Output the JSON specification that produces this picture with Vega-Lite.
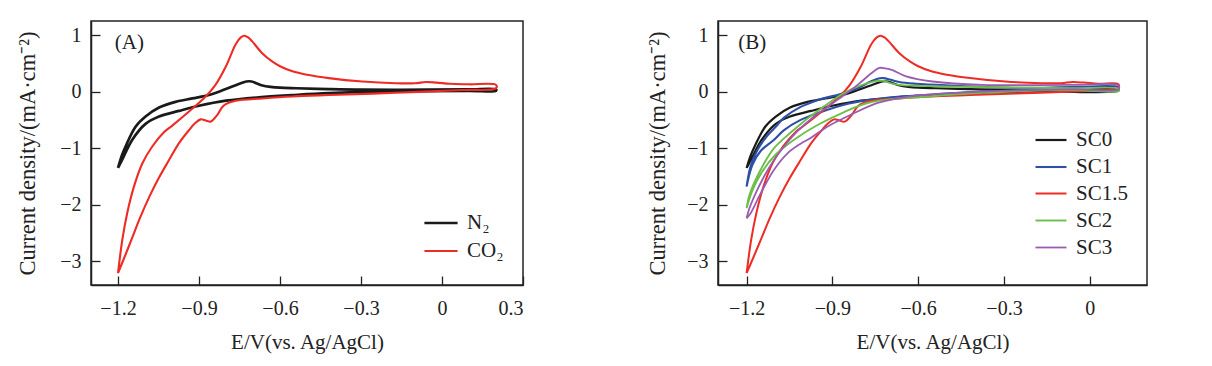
{
  "$schema": "https://vega.github.io/schema/vega-lite/v6.json",
  "background": "white",
  "padding": {"left": 15, "top": 20, "right": 5, "bottom": 5},
  "bounds": "flush",
  "spacing": 195,
  "config": {
    "font": "Liberation Serif",
    "view": {"stroke": "#222", "strokeWidth": 1.5},
    "axis": {
      "labelFont": "Liberation Serif", "labelFontSize": 20, "labelColor": "#222",
      "titleFont": "Liberation Serif", "titleFontWeight": "normal", "titleColor": "#222",
      "domainColor": "#222", "domainWidth": 1.5, "tickColor": "#222", "tickWidth": 1.3, "grid": false,
      "tickSize": -9
    },
    "axisX": {"labelPadding": 22, "titlePadding": 13, "titleFontSize": 21},
    "axisY": {"labelPadding": 19, "titlePadding": 17, "titleFontSize": 22.5},
    "legend": {
      "orient": "none", "title": null, "symbolType": "stroke", "symbolSize": 1100, "symbolStrokeWidth": 2.6,
      "labelFont": "Liberation Serif", "labelFontSize": 21, "labelColor": "#222", "rowPadding": 0, "padding": 0, "labelOffset": 8
    }
  },
  "resolve": {"scale": {"color": "independent", "strokeWidth": "independent"}, "legend": {"color": "independent"}},
  "datasets": {
    "a": [
      {"g":"N₂","i":1,"E":-1.2,"j":-1.35},{"g":"N₂","i":2,"E":-1.185,"j":-1.12},{"g":"N₂","i":3,"E":-1.172,"j":-0.97},{"g":"N₂","i":4,"E":-1.135,"j":-0.62},{"g":"N₂","i":5,"E":-1.098,"j":-0.44},{"g":"N₂","i":6,"E":-1.048,"j":-0.28},{"g":"N₂","i":7,"E":-0.987,"j":-0.18},{"g":"N₂","i":8,"E":-0.925,"j":-0.12},{"g":"N₂","i":9,"E":-0.863,"j":-0.06},{"g":"N₂","i":10,"E":-0.826,"j":0.0},{"g":"N₂","i":11,"E":-0.777,"j":0.09},{"g":"N₂","i":12,"E":-0.745,"j":0.15},{"g":"N₂","i":13,"E":-0.725,"j":0.18},{"g":"N₂","i":14,"E":-0.705,"j":0.18},{"g":"N₂","i":15,"E":-0.688,"j":0.15},{"g":"N₂","i":16,"E":-0.665,"j":0.11},{"g":"N₂","i":17,"E":-0.635,"j":0.085},{"g":"N₂","i":18,"E":-0.6,"j":0.07},{"g":"N₂","i":19,"E":-0.54,"j":0.06},{"g":"N₂","i":20,"E":-0.42,"j":0.045},{"g":"N₂","i":21,"E":-0.295,"j":0.035},{"g":"N₂","i":22,"E":-0.05,"j":0.035},{"g":"N₂","i":23,"E":0.1,"j":0.04},{"g":"N₂","i":24,"E":0.2,"j":0.04},
      {"g":"N₂","i":25,"E":0.2,"j":0.015},{"g":"N₂","i":26,"E":0.1,"j":0.015},{"g":"N₂","i":27,"E":-0.17,"j":0.005},{"g":"N₂","i":28,"E":-0.42,"j":-0.025},{"g":"N₂","i":29,"E":-0.554,"j":-0.06},{"g":"N₂","i":30,"E":-0.678,"j":-0.1},{"g":"N₂","i":31,"E":-0.8,"j":-0.16},{"g":"N₂","i":32,"E":-0.9,"j":-0.25},{"g":"N₂","i":33,"E":-0.974,"j":-0.34},{"g":"N₂","i":34,"E":-1.048,"j":-0.44},{"g":"N₂","i":35,"E":-1.098,"j":-0.57},{"g":"N₂","i":36,"E":-1.147,"j":-0.85},{"g":"N₂","i":37,"E":-1.184,"j":-1.2},{"g":"N₂","i":38,"E":-1.2,"j":-1.35},
      {"g":"CO₂","i":1,"E":-1.2,"j":-3.21},{"g":"CO₂","i":2,"E":-1.184,"j":-2.62},{"g":"CO₂","i":3,"E":-1.166,"j":-2.15},{"g":"CO₂","i":4,"E":-1.141,"j":-1.68},{"g":"CO₂","i":5,"E":-1.11,"j":-1.27},{"g":"CO₂","i":6,"E":-1.073,"j":-0.97},{"g":"CO₂","i":7,"E":-1.03,"j":-0.72},{"g":"CO₂","i":8,"E":-0.999,"j":-0.6},{"g":"CO₂","i":9,"E":-0.937,"j":-0.35},{"g":"CO₂","i":10,"E":-0.876,"j":-0.09},{"g":"CO₂","i":11,"E":-0.839,"j":0.12},{"g":"CO₂","i":12,"E":-0.801,"j":0.44},{"g":"CO₂","i":13,"E":-0.764,"j":0.84},{"g":"CO₂","i":14,"E":-0.745,"j":0.96},{"g":"CO₂","i":15,"E":-0.732,"j":0.99},{"g":"CO₂","i":16,"E":-0.718,"j":0.96},{"g":"CO₂","i":17,"E":-0.703,"j":0.89},{"g":"CO₂","i":18,"E":-0.666,"j":0.68},{"g":"CO₂","i":19,"E":-0.628,"j":0.53},{"g":"CO₂","i":20,"E":-0.6,"j":0.45},{"g":"CO₂","i":21,"E":-0.554,"j":0.36},{"g":"CO₂","i":22,"E":-0.5,"j":0.3},{"g":"CO₂","i":23,"E":-0.419,"j":0.24},{"g":"CO₂","i":24,"E":-0.295,"j":0.18},{"g":"CO₂","i":25,"E":-0.172,"j":0.15},{"g":"CO₂","i":26,"E":-0.1,"j":0.15},{"g":"CO₂","i":27,"E":-0.06,"j":0.17},{"g":"CO₂","i":28,"E":-0.02,"j":0.16},{"g":"CO₂","i":29,"E":0.03,"j":0.14},{"g":"CO₂","i":30,"E":0.1,"j":0.13},{"g":"CO₂","i":31,"E":0.2,"j":0.12},
      {"g":"CO₂","i":32,"E":0.2,"j":0.06},{"g":"CO₂","i":33,"E":0.075,"j":0.03},{"g":"CO₂","i":34,"E":-0.172,"j":-0.02},{"g":"CO₂","i":35,"E":-0.419,"j":-0.06},{"g":"CO₂","i":36,"E":-0.554,"j":-0.085},{"g":"CO₂","i":37,"E":-0.665,"j":-0.12},{"g":"CO₂","i":38,"E":-0.764,"j":-0.16},{"g":"CO₂","i":39,"E":-0.801,"j":-0.22},{"g":"CO₂","i":40,"E":-0.815,"j":-0.28},{"g":"CO₂","i":41,"E":-0.832,"j":-0.41},{"g":"CO₂","i":42,"E":-0.857,"j":-0.53},{"g":"CO₂","i":43,"E":-0.875,"j":-0.51},{"g":"CO₂","i":44,"E":-0.894,"j":-0.49},{"g":"CO₂","i":45,"E":-0.915,"j":-0.56},{"g":"CO₂","i":46,"E":-0.937,"j":-0.68},{"g":"CO₂","i":47,"E":-0.974,"j":-0.91},{"g":"CO₂","i":48,"E":-1.011,"j":-1.21},{"g":"CO₂","i":49,"E":-1.048,"j":-1.52},{"g":"CO₂","i":50,"E":-1.085,"j":-1.87},{"g":"CO₂","i":51,"E":-1.12,"j":-2.25},{"g":"CO₂","i":52,"E":-1.152,"j":-2.64},{"g":"CO₂","i":53,"E":-1.182,"j":-3.0},{"g":"CO₂","i":54,"E":-1.2,"j":-3.21}
    ],
    "b": [
      {"g":"SC0","i":1,"E":-1.2,"j":-1.35},{"g":"SC0","i":2,"E":-1.185,"j":-1.12},{"g":"SC0","i":3,"E":-1.172,"j":-0.97},{"g":"SC0","i":4,"E":-1.135,"j":-0.62},{"g":"SC0","i":5,"E":-1.098,"j":-0.44},{"g":"SC0","i":6,"E":-1.048,"j":-0.28},{"g":"SC0","i":7,"E":-0.987,"j":-0.18},{"g":"SC0","i":8,"E":-0.925,"j":-0.12},{"g":"SC0","i":9,"E":-0.863,"j":-0.06},{"g":"SC0","i":10,"E":-0.826,"j":0.0},{"g":"SC0","i":11,"E":-0.777,"j":0.09},{"g":"SC0","i":12,"E":-0.745,"j":0.15},{"g":"SC0","i":13,"E":-0.725,"j":0.18},{"g":"SC0","i":14,"E":-0.705,"j":0.18},{"g":"SC0","i":15,"E":-0.688,"j":0.15},{"g":"SC0","i":16,"E":-0.665,"j":0.11},{"g":"SC0","i":17,"E":-0.635,"j":0.085},{"g":"SC0","i":18,"E":-0.6,"j":0.07},{"g":"SC0","i":19,"E":-0.54,"j":0.06},{"g":"SC0","i":20,"E":-0.42,"j":0.045},{"g":"SC0","i":21,"E":-0.295,"j":0.035},{"g":"SC0","i":22,"E":-0.05,"j":0.035},{"g":"SC0","i":23,"E":0.1,"j":0.04},
      {"g":"SC0","i":24,"E":0.1,"j":0.015},{"g":"SC0","i":25,"E":-0.17,"j":0.005},{"g":"SC0","i":26,"E":-0.42,"j":-0.025},{"g":"SC0","i":27,"E":-0.554,"j":-0.06},{"g":"SC0","i":28,"E":-0.678,"j":-0.1},{"g":"SC0","i":29,"E":-0.8,"j":-0.16},{"g":"SC0","i":30,"E":-0.9,"j":-0.25},{"g":"SC0","i":31,"E":-0.974,"j":-0.34},{"g":"SC0","i":32,"E":-1.048,"j":-0.44},{"g":"SC0","i":33,"E":-1.098,"j":-0.57},{"g":"SC0","i":34,"E":-1.147,"j":-0.85},{"g":"SC0","i":35,"E":-1.184,"j":-1.2},{"g":"SC0","i":36,"E":-1.2,"j":-1.35},
      {"g":"SC1","i":1,"E":-1.2,"j":-1.68},{"g":"SC1","i":2,"E":-1.186,"j":-1.32},{"g":"SC1","i":3,"E":-1.162,"j":-1.03},{"g":"SC1","i":4,"E":-1.128,"j":-0.78},{"g":"SC1","i":5,"E":-1.098,"j":-0.62},{"g":"SC1","i":6,"E":-1.069,"j":-0.46},{"g":"SC1","i":7,"E":-1.011,"j":-0.27},{"g":"SC1","i":8,"E":-0.952,"j":-0.15},{"g":"SC1","i":9,"E":-0.871,"j":-0.04},{"g":"SC1","i":10,"E":-0.812,"j":0.06},{"g":"SC1","i":11,"E":-0.77,"j":0.17},{"g":"SC1","i":12,"E":-0.742,"j":0.23},{"g":"SC1","i":13,"E":-0.722,"j":0.24},{"g":"SC1","i":14,"E":-0.696,"j":0.21},{"g":"SC1","i":15,"E":-0.666,"j":0.17},{"g":"SC1","i":16,"E":-0.608,"j":0.14},{"g":"SC1","i":17,"E":-0.491,"j":0.11},{"g":"SC1","i":18,"E":-0.258,"j":0.07},{"g":"SC1","i":19,"E":-0.06,"j":0.08},{"g":"SC1","i":20,"E":0.1,"j":0.08},
      {"g":"SC1","i":21,"E":0.1,"j":0.04},{"g":"SC1","i":22,"E":-0.06,"j":0.05},{"g":"SC1","i":23,"E":-0.375,"j":0.0},{"g":"SC1","i":24,"E":-0.608,"j":-0.07},{"g":"SC1","i":25,"E":-0.672,"j":-0.09},{"g":"SC1","i":26,"E":-0.777,"j":-0.15},{"g":"SC1","i":27,"E":-0.859,"j":-0.23},{"g":"SC1","i":28,"E":-0.952,"j":-0.38},{"g":"SC1","i":29,"E":-1.011,"j":-0.5},{"g":"SC1","i":30,"E":-1.069,"j":-0.68},{"g":"SC1","i":31,"E":-1.104,"j":-0.85},{"g":"SC1","i":32,"E":-1.151,"j":-1.05},{"g":"SC1","i":33,"E":-1.18,"j":-1.3},{"g":"SC1","i":34,"E":-1.2,"j":-1.68},
      {"g":"SC1.5","i":1,"E":-1.2,"j":-3.21},{"g":"SC1.5","i":2,"E":-1.184,"j":-2.62},{"g":"SC1.5","i":3,"E":-1.166,"j":-2.15},{"g":"SC1.5","i":4,"E":-1.141,"j":-1.68},{"g":"SC1.5","i":5,"E":-1.11,"j":-1.27},{"g":"SC1.5","i":6,"E":-1.073,"j":-0.97},{"g":"SC1.5","i":7,"E":-1.03,"j":-0.72},{"g":"SC1.5","i":8,"E":-0.999,"j":-0.6},{"g":"SC1.5","i":9,"E":-0.937,"j":-0.35},{"g":"SC1.5","i":10,"E":-0.876,"j":-0.09},{"g":"SC1.5","i":11,"E":-0.839,"j":0.12},{"g":"SC1.5","i":12,"E":-0.801,"j":0.44},{"g":"SC1.5","i":13,"E":-0.764,"j":0.84},{"g":"SC1.5","i":14,"E":-0.745,"j":0.96},{"g":"SC1.5","i":15,"E":-0.732,"j":0.99},{"g":"SC1.5","i":16,"E":-0.718,"j":0.96},{"g":"SC1.5","i":17,"E":-0.703,"j":0.89},{"g":"SC1.5","i":18,"E":-0.666,"j":0.68},{"g":"SC1.5","i":19,"E":-0.628,"j":0.53},{"g":"SC1.5","i":20,"E":-0.6,"j":0.45},{"g":"SC1.5","i":21,"E":-0.554,"j":0.36},{"g":"SC1.5","i":22,"E":-0.5,"j":0.3},{"g":"SC1.5","i":23,"E":-0.419,"j":0.24},{"g":"SC1.5","i":24,"E":-0.295,"j":0.18},{"g":"SC1.5","i":25,"E":-0.172,"j":0.15},{"g":"SC1.5","i":26,"E":-0.1,"j":0.15},{"g":"SC1.5","i":27,"E":-0.06,"j":0.17},{"g":"SC1.5","i":28,"E":-0.02,"j":0.16},{"g":"SC1.5","i":29,"E":0.03,"j":0.14},{"g":"SC1.5","i":30,"E":0.1,"j":0.13},
      {"g":"SC1.5","i":31,"E":0.1,"j":0.04},{"g":"SC1.5","i":32,"E":0.075,"j":0.03},{"g":"SC1.5","i":33,"E":-0.172,"j":-0.02},{"g":"SC1.5","i":34,"E":-0.419,"j":-0.06},{"g":"SC1.5","i":35,"E":-0.554,"j":-0.085},{"g":"SC1.5","i":36,"E":-0.665,"j":-0.12},{"g":"SC1.5","i":37,"E":-0.764,"j":-0.16},{"g":"SC1.5","i":38,"E":-0.801,"j":-0.22},{"g":"SC1.5","i":39,"E":-0.815,"j":-0.28},{"g":"SC1.5","i":40,"E":-0.832,"j":-0.41},{"g":"SC1.5","i":41,"E":-0.857,"j":-0.53},{"g":"SC1.5","i":42,"E":-0.875,"j":-0.51},{"g":"SC1.5","i":43,"E":-0.894,"j":-0.49},{"g":"SC1.5","i":44,"E":-0.915,"j":-0.56},{"g":"SC1.5","i":45,"E":-0.937,"j":-0.68},{"g":"SC1.5","i":46,"E":-0.974,"j":-0.91},{"g":"SC1.5","i":47,"E":-1.011,"j":-1.21},{"g":"SC1.5","i":48,"E":-1.048,"j":-1.52},{"g":"SC1.5","i":49,"E":-1.085,"j":-1.87},{"g":"SC1.5","i":50,"E":-1.12,"j":-2.25},{"g":"SC1.5","i":51,"E":-1.152,"j":-2.64},{"g":"SC1.5","i":52,"E":-1.182,"j":-3.0},{"g":"SC1.5","i":53,"E":-1.2,"j":-3.21},
      {"g":"SC2","i":1,"E":-1.2,"j":-2.06},{"g":"SC2","i":2,"E":-1.192,"j":-1.86},{"g":"SC2","i":3,"E":-1.174,"j":-1.62},{"g":"SC2","i":4,"E":-1.139,"j":-1.27},{"g":"SC2","i":5,"E":-1.104,"j":-1.0},{"g":"SC2","i":6,"E":-1.057,"j":-0.77},{"g":"SC2","i":7,"E":-1.022,"j":-0.62},{"g":"SC2","i":8,"E":-0.988,"j":-0.48},{"g":"SC2","i":9,"E":-0.929,"j":-0.26},{"g":"SC2","i":10,"E":-0.871,"j":-0.06},{"g":"SC2","i":11,"E":-0.812,"j":0.09},{"g":"SC2","i":12,"E":-0.742,"j":0.19},{"g":"SC2","i":13,"E":-0.72,"j":0.19},{"g":"SC2","i":14,"E":-0.696,"j":0.15},{"g":"SC2","i":15,"E":-0.666,"j":0.12},{"g":"SC2","i":16,"E":-0.491,"j":0.09},{"g":"SC2","i":17,"E":-0.06,"j":0.06},{"g":"SC2","i":18,"E":0.1,"j":0.05},
      {"g":"SC2","i":19,"E":0.1,"j":0.01},{"g":"SC2","i":20,"E":-0.06,"j":0.03},{"g":"SC2","i":21,"E":-0.375,"j":-0.02},{"g":"SC2","i":22,"E":-0.608,"j":-0.1},{"g":"SC2","i":23,"E":-0.672,"j":-0.12},{"g":"SC2","i":24,"E":-0.777,"j":-0.2},{"g":"SC2","i":25,"E":-0.859,"j":-0.36},{"g":"SC2","i":26,"E":-0.952,"j":-0.59},{"g":"SC2","i":27,"E":-1.034,"j":-0.85},{"g":"SC2","i":28,"E":-1.1,"j":-1.12},{"g":"SC2","i":29,"E":-1.15,"j":-1.45},{"g":"SC2","i":30,"E":-1.18,"j":-1.75},{"g":"SC2","i":31,"E":-1.2,"j":-2.06},
      {"g":"SC3","i":1,"E":-1.2,"j":-2.24},{"g":"SC3","i":2,"E":-1.192,"j":-2.09},{"g":"SC3","i":3,"E":-1.174,"j":-1.86},{"g":"SC3","i":4,"E":-1.139,"j":-1.5},{"g":"SC3","i":5,"E":-1.104,"j":-1.21},{"g":"SC3","i":6,"E":-1.069,"j":-0.97},{"g":"SC3","i":7,"E":-1.022,"j":-0.7},{"g":"SC3","i":8,"E":-0.964,"j":-0.44},{"g":"SC3","i":9,"E":-0.906,"j":-0.23},{"g":"SC3","i":10,"E":-0.859,"j":-0.06},{"g":"SC3","i":11,"E":-0.812,"j":0.12},{"g":"SC3","i":12,"E":-0.765,"j":0.32},{"g":"SC3","i":13,"E":-0.736,"j":0.42},{"g":"SC3","i":14,"E":-0.715,"j":0.41},{"g":"SC3","i":15,"E":-0.69,"j":0.38},{"g":"SC3","i":16,"E":-0.642,"j":0.27},{"g":"SC3","i":17,"E":-0.55,"j":0.18},{"g":"SC3","i":18,"E":-0.375,"j":0.12},{"g":"SC3","i":19,"E":-0.06,"j":0.12},{"g":"SC3","i":20,"E":0.1,"j":0.11},
      {"g":"SC3","i":21,"E":0.1,"j":0.04},{"g":"SC3","i":22,"E":-0.06,"j":0.04},{"g":"SC3","i":23,"E":-0.375,"j":0.0},{"g":"SC3","i":24,"E":-0.608,"j":-0.07},{"g":"SC3","i":25,"E":-0.672,"j":-0.12},{"g":"SC3","i":26,"E":-0.742,"j":-0.2},{"g":"SC3","i":27,"E":-0.836,"j":-0.41},{"g":"SC3","i":28,"E":-0.918,"j":-0.62},{"g":"SC3","i":29,"E":-0.976,"j":-0.82},{"g":"SC3","i":30,"E":-1.011,"j":-0.92},{"g":"SC3","i":31,"E":-1.057,"j":-1.09},{"g":"SC3","i":32,"E":-1.104,"j":-1.38},{"g":"SC3","i":33,"E":-1.151,"j":-1.8},{"g":"SC3","i":34,"E":-1.186,"j":-2.15},{"g":"SC3","i":35,"E":-1.2,"j":-2.24}
    ]
  },
  "hconcat": [
    {
      "width": 432, "height": 264,
      "layer": [
        {
          "data": {"name": "a"},
          "mark": {"type": "line", "interpolate": "catmull-rom", "clip": true},
          "encoding": {
            "x": {"field": "E", "type": "quantitative", "scale": {"domain": [-1.3, 0.3], "nice": false, "zero": false}, "axis": {"values": [-1.2, -0.9, -0.6, -0.3, 0, 0.3], "format": "~g", "title": "E/V(vs. Ag/AgCl)"}},
            "y": {"field": "j", "type": "quantitative", "scale": {"domain": [-3.42, 1.25], "nice": false, "zero": false}, "axis": {"values": [1, 0, -1, -2, -3], "format": "~g", "title": "Current density/(mA·cm⁻²)", "titlePadding": 20}},
            "color": {"field": "g", "type": "nominal", "scale": {"domain": ["N₂", "CO₂"], "range": ["#1a1a1a", "#ee2b24"]}, "legend": {"legendX": 332, "legendY": 184}},
            "strokeWidth": {"field": "g", "type": "nominal", "scale": {"domain": ["N₂", "CO₂"], "range": [2.7, 2.1]}, "legend": null},
            "order": {"field": "i", "type": "quantitative"}
          }
        },
        {
          "data": {"values": [{"t": "(A)", "E": -1.158, "j": 0.86}]},
          "mark": {"type": "text", "fontSize": 21, "font": "Liberation Serif", "color": "#222"},
          "encoding": {"x": {"field": "E", "type": "quantitative"}, "y": {"field": "j", "type": "quantitative"}, "text": {"field": "t"}}
        }
      ]
    },
    {
      "width": 429, "height": 264,
      "layer": [
        {
          "data": {"name": "b"},
          "mark": {"type": "line", "interpolate": "catmull-rom", "clip": true},
          "encoding": {
            "x": {"field": "E", "type": "quantitative", "scale": {"domain": [-1.3, 0.2], "nice": false, "zero": false}, "axis": {"values": [-1.2, -0.9, -0.6, -0.3, 0], "format": "~g", "title": "E/V(vs. Ag/AgCl)"}},
            "y": {"field": "j", "type": "quantitative", "scale": {"domain": [-3.42, 1.25], "nice": false, "zero": false}, "axis": {"values": [1, 0, -1, -2, -3], "format": "~g", "title": "Current density/(mA·cm⁻²)"}},
            "color": {"field": "g", "type": "nominal", "scale": {"domain": ["SC0", "SC1", "SC1.5", "SC2", "SC3"], "range": ["#1a1a1a", "#2d4fa6", "#ee2b24", "#6cbf4a", "#9c5bb0"]}, "legend": {"legendX": 316, "legendY": 102, "symbolSize": 960, "rowPadding": -2}},
            "strokeWidth": {"field": "g", "type": "nominal", "scale": {"domain": ["SC0", "SC1", "SC1.5", "SC2", "SC3"], "range": [2.2, 1.8, 1.6, 1.6, 1.8]}, "legend": null},
            "order": {"field": "i", "type": "quantitative"}
          }
        },
        {
          "data": {"values": [{"t": "(B)", "E": -1.18, "j": 0.86}]},
          "mark": {"type": "text", "fontSize": 21, "font": "Liberation Serif", "color": "#222"},
          "encoding": {"x": {"field": "E", "type": "quantitative"}, "y": {"field": "j", "type": "quantitative"}, "text": {"field": "t"}}
        }
      ]
    }
  ]
}
